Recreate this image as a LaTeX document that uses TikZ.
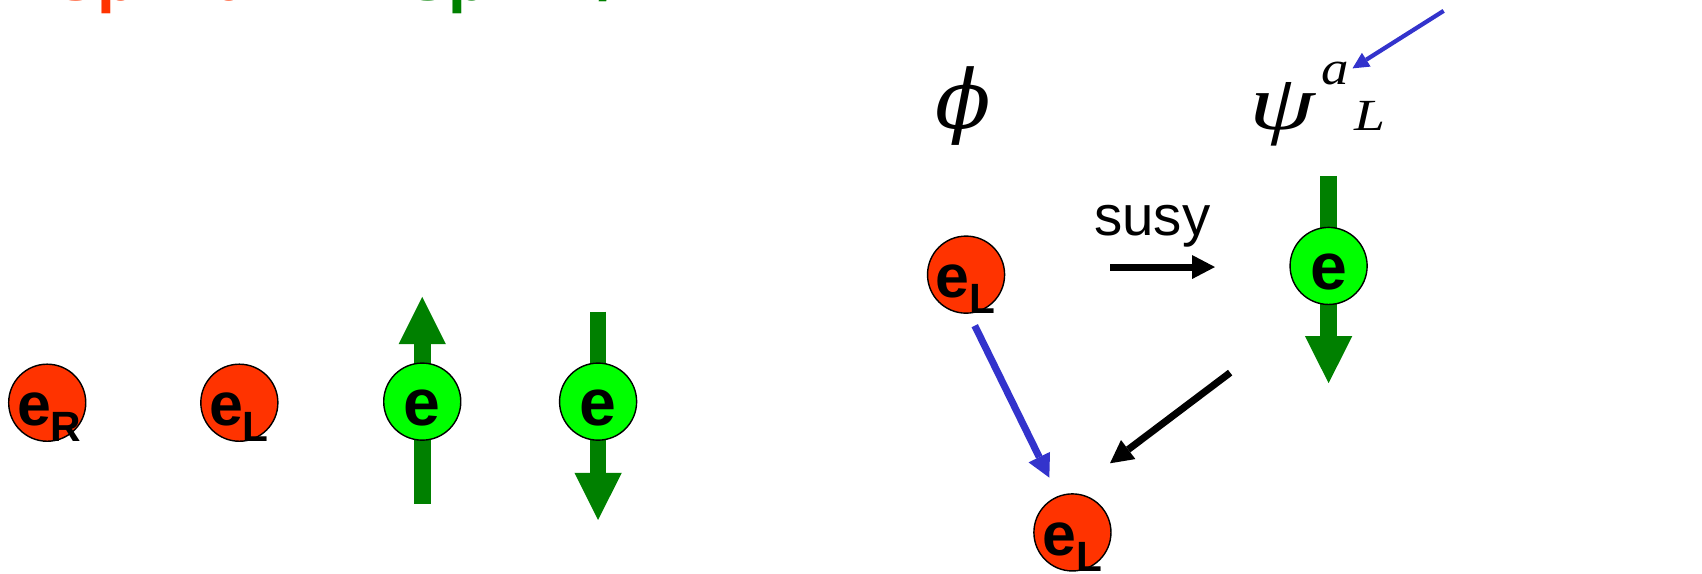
\RequirePackage{fix-cm}
\documentclass[tikz,border=0pt]{standalone}
\usepackage{fontspec}
\newfontfamily\arialfont{Liberation Sans}
\newfontfamily\timesfont{Liberation Serif}
\newfontfamily\dejaserif{DejaVu Serif}
\usetikzlibrary{arrows.meta,calc}
\definecolor{ballred}{RGB}{255,51,0}
\definecolor{ballgreen}{RGB}{0,255,0}
\definecolor{spingreen}{RGB}{0,128,0}
\definecolor{arrowblue}{RGB}{51,51,204}
\newcommand{\lowsub}[1]{\raisebox{-15pt}{\fontsize{39}{39}\selectfont #1}}
\tikzset{
  ball/.style={circle, draw=black, line width=1.3pt, minimum size=71pt, inner sep=0pt},
  redball/.style={ball, fill=ballred},
  greenball/.style={ball, fill=ballgreen},
  etext/.style={inner sep=0pt, font=\arialfont\bfseries\fontsize{56}{56}\selectfont, anchor=base west},
  gtext/.style={inner sep=0pt, font=\arialfont\bfseries\fontsize{61}{61}\selectfont, anchor=base},
  spinarrow/.style={draw=spingreen, line width=15.4pt, -{Triangle[length=43.4pt,width=43.6pt,line width=0pt]}},
  thinarrow/.style={line width=6.5pt, -{Triangle[length=21pt,width=22pt,line width=0pt]}},
  toparrow/.style={draw=arrowblue, line width=3.9pt, -{Triangle[length=15pt,width=15pt,line width=0pt]}},
  spintitle/.style={inner sep=0pt, anchor=base west, font=\arialfont\bfseries\fontsize{59}{59}\selectfont},
  greek/.style={inner sep=0pt, anchor=base},
}
\begin{document}
\begin{tikzpicture}[x=1pt, y=-1pt]
\useasboundingbox (0,0) rectangle (1568,528);

% titles (cut off at the top)
\node[spintitle, text=ballred] (spin0) at (50,0) {Spin 0};
\node[spintitle, text=spingreen] (spinhalf) at (374,0) {Spin 1/2};

% left row
\coordinate (upbot) at (389,464);
\coordinate (uptop) at (389,273.6);
\coordinate (dntop) at (551,287);
\coordinate (dnbot) at (551,479);
\draw[spinarrow] (upbot) -- (uptop);
\draw[spinarrow] (dntop) -- (dnbot);

\node[redball] (eR) at (43.5,371) {};
\node[etext] (eRt) at ($(eR.center)+(-28,21)$) {e\lowsub{R}};
\node[redball] (eL) at (220.5,371) {};
\node[etext] (eLt) at ($(eL.center)+(-28,21)$) {e\lowsub{L}};
\node[greenball] (gup) at (389,370) {};
\node[gtext] (gupt) at ($(gup.center)+(0,22)$) {e};
\node[greenball] (gdn) at (551,370) {};
\node[gtext] (gdnt) at ($(gdn.center)+(0,22)$) {e};

% right part
\node[greek] (phi) at (887,118) {\dejaserif\itshape\fontsize{75}{75}\selectfont ϕ};
\node[greek] (psi) at (1181,119) {\timesfont\itshape\fontsize{72}{72}\selectfont\scalebox{1.35}[1]{ψ}};
\node[greek] (sa) at (1230,78) {\timesfont\itshape\fontsize{44}{44}\selectfont\scalebox{1.15}[1]{a}};
\node[greek] (sL) at (1262,120) {\timesfont\itshape\fontsize{41}{41}\selectfont\scalebox{1.25}[1]{L}};
\coordinate (tbstart) at (1330,10);
\coordinate (tbend) at (1246,63);
\draw[toparrow] (tbstart) -- (tbend);

\coordinate (rgtop) at (1224,162);
\coordinate (rgbot) at (1224,353);
\draw[spinarrow] (rgtop) -- (rgbot);
\node[greenball] (gR) at (1224,245) {};
\node[gtext] (gRt) at ($(gR.center)+(0,22)$) {e};

\node[redball] (eLa) at (890,253) {};
\node[etext] (eLat) at ($(eLa.center)+(-28,21)$) {e\lowsub{L}};

\node[inner sep=0pt, anchor=base west, font=\arialfont\fontsize{52}{52}\selectfont] (susy) at (1008,216.5) {susy};
\coordinate (sstart) at (1022.6,246);
\coordinate (send) at (1119.3,246);
\draw[thinarrow, draw=black] (sstart) -- (send);

\node[redball] (eLb) at (988,490.5) {};
\node[etext] (eLbt) at ($(eLb.center)+(-28,21)$) {e\lowsub{L}};

\coordinate (bstart) at (898,300);
\coordinate (bend) at (966.7,440);
\draw[thinarrow, draw=arrowblue] (bstart) -- (bend);
\coordinate (kstart) at (1133.3,343.3);
\coordinate (kend) at (1022.6,426.8);
\draw[thinarrow, draw=black] (kstart) -- (kend);
\end{tikzpicture}
\end{document}
